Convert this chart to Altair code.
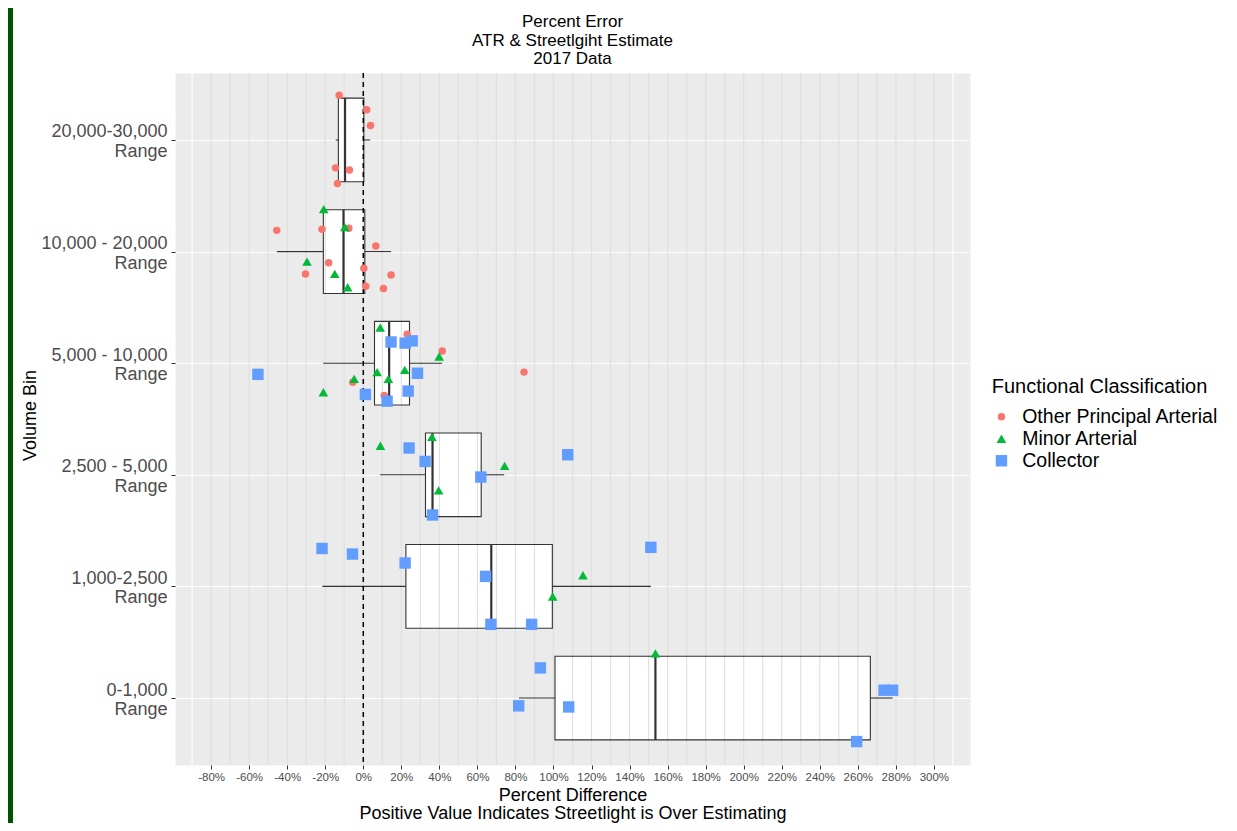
import json
import altair as alt
import pandas as pd

FONT = "Liberation Sans"

# ---------------- data ----------------
bin_labels = [
    "20,000-30,000\nRange",
    "10,000 - 20,000\nRange",
    "5,000 - 10,000\nRange",
    "2,500 - 5,000\nRange",
    "1,000-2,500\nRange",
    "0-1,000\nRange",
]
class_names = ["Other Principal Arterial", "Minor Arterial", "Collector"]
class_colors = ["#F8766D", "#00BA38", "#619CFF"]
class_shapes = ["circle", "triangle-up", "square"]
class_sizes = [56, 130, 62]

# box statistics per volume bin (percent)
whisker_low = [-14.5, -45.4, -21.1, 8.9, -21.5, 81.8]
box_q1 = [-13.1, -21.0, 5.9, 32.7, 22.4, 100.8]
box_median = [-9.6, -10.4, 13.6, 36.4, 67.3, 153.6]
box_q3 = [0.3, 0.8, 24.3, 62.0, 99.4, 266.6]
whisker_high = [3.6, 14.6, 41.5, 74.1, 151.2, 278.3]

# Other Principal Arterial points
opa_bin = [1] * 6 + [2] * 10 + [3] * 5
opa_value = [-12.7, 1.8, 3.8, -14.6, -7.3, -13.6,
             -45.5, -21.7, -7.6, 6.6, -18.2, 0.3, -30.4, 14.6, 1.3, 10.6,
             23.1, 41.5, 84.5, -5.5, 11.0]
opa_jitter = [-0.40, -0.27, -0.13, 0.25, 0.27, 0.39,
              -0.19, -0.20, -0.21, -0.05, 0.10, 0.15, 0.20, 0.21, 0.31, 0.33,
              -0.26, -0.11, 0.08, 0.17, 0.29]

# Minor Arterial points
ma_bin = [2] * 5 + [3] * 7 + [4] * 4 + [5] * 2 + [6]
ma_value = [-20.8, -9.7, -29.6, -15.0, -8.2,
            8.9, 39.9, 7.3, 21.8, 13.2, -4.8, -21.0,
            9.0, 36.1, 39.6, 74.3,
            115.5, 99.6,
            153.6]
ma_jitter = [-0.38, -0.22, 0.09, 0.20, 0.32,
             -0.32, -0.06, 0.08, 0.06, 0.14, 0.14, 0.26,
             -0.26, -0.34, 0.14, -0.08,
             -0.10, 0.09,
             -0.40]

# Collector points
col_bin = [3] * 8 + [4] * 5 + [5] * 7 + [6] * 6
col_value = [14.6, 22.0, 25.7, -55.4, 28.5, 1.1, 23.6, 12.5,
             24.1, 32.5, 61.8, 36.4, 107.5,
             -21.7, -5.7, 22.0, 64.3, 67.1, 88.5, 151.2,
             93.1, 81.7, 108.0, 259.4, 273.8, 278.3]
col_jitter = [-0.19, -0.18, -0.20, 0.10, 0.09, 0.28, 0.25, 0.34,
              -0.24, -0.12, 0.02, 0.36, -0.18,
              -0.34, -0.29, -0.21, -0.09, 0.34, 0.34, -0.35,
              -0.27, 0.07, 0.08, 0.39, -0.07, -0.07]

x_ticks = list(range(-80, 301, 20))
grey_lines = list(range(-80, 301, 10))
white_lines = list(range(-90, 311, 10))
zero_line = [0]

# ---------------- tables ----------------
rows = []
for cname, bins, vals, jits in [
    (class_names[0], opa_bin, opa_value, opa_jitter),
    (class_names[1], ma_bin, ma_value, ma_jitter),
    (class_names[2], col_bin, col_value, col_jitter),
]:
    for b, v, j in zip(bins, vals, jits):
        rows.append({"cls": cname, "value": v, "pos": b + j})
points_df = pd.DataFrame(rows)

box_df = pd.DataFrame({
    "pos": list(range(1, len(bin_labels) + 1)),
    "low": whisker_low, "q1": box_q1, "med": box_median,
    "q3": box_q3, "high": whisker_high,
})

label_lines = [lab.split("\n") for lab in bin_labels]

PLOT_W, PLOT_H = 795, 692

# ---------------- scales / axes ----------------
xs = alt.Scale(domain=[-99, 319], nice=False, zero=False)
ys = alt.Scale(domain=[0.4, 6.6], nice=False, zero=False, reverse=True)

x_axis = alt.Axis(
    values=x_ticks, labelExpr="datum.value + '%'", grid=False, domain=False,
    tickColor="#333333", tickSize=4, tickWidth=1,
    labelColor="#4D4D4D", labelFontSize=11.5, labelFont=FONT, labelPadding=2,
    labelFlush=False, labelOverlap=False,
    title=["Percent Difference", "Positive Value Indicates Streetlight is Over Estimating"],
    titleFont=FONT, titleFontSize=18, titleFontWeight="normal", titleColor="black",
    titleLineHeight=18, titleBaseline="top", titleY=21,
)
y_axis = alt.Axis(
    values=list(range(1, len(bin_labels) + 1)),
    labelExpr=json.dumps(label_lines) + "[datum.value - 1]",
    grid=True, gridColor="white", gridWidth=1.1, domain=False,
    tickColor="#333333", tickSize=4, tickWidth=1,
    labelColor="#4D4D4D", labelFontSize=18, labelFont=FONT, labelLineHeight=19.5,
    labelAlign="right", labelBaseline="middle", labelPadding=4, labelOverlap=False,
    labelOffset=-8,
    title="Volume Bin", titleFont=FONT, titleFontSize=18, titleFontWeight="normal",
    titleColor="black", titleX=-145, titleY=PLOT_H / 2 - 4, titleAngle=-90,
    titleAlign="center", titleBaseline="middle",
)

X = lambda f: alt.X(f, type="quantitative", scale=xs, axis=x_axis)
Y = lambda f: alt.Y(f, type="quantitative", scale=ys, axis=y_axis)

# ---------------- layers ----------------
white_grid = alt.Chart(pd.DataFrame({"v": white_lines})).mark_rule(
    color="white", strokeWidth=1.1
).encode(x=X("v:Q"))

whisk_lo = alt.Chart(box_df).mark_rule(color="#333333", strokeWidth=1.1).encode(
    x=X("low:Q"), x2="q1:Q", y=Y("pos:Q"))
whisk_hi = alt.Chart(box_df).mark_rule(color="#333333", strokeWidth=1.1).encode(
    x=X("q3:Q"), x2="high:Q", y=Y("pos:Q"))

boxes = alt.Chart(box_df).transform_calculate(
    top="datum.pos - 0.375", bot="datum.pos + 0.375"
).mark_rect(fill="white", stroke="#333333", strokeWidth=1.1).encode(
    x=X("q1:Q"), x2="q3:Q", y=Y("top:Q"), y2="bot:Q")

grey_grid = alt.Chart(pd.DataFrame({"v": grey_lines})).mark_rule(
    color="#000000", opacity=0.12, strokeWidth=1.2
).encode(x=X("v:Q"))

medians = alt.Chart(box_df).transform_calculate(
    top="datum.pos - 0.375", bot="datum.pos + 0.375"
).mark_rule(color="#333333", strokeWidth=2.2).encode(
    x=X("med:Q"), y=Y("top:Q"), y2="bot:Q")

zero = alt.Chart(pd.DataFrame({"v": zero_line})).mark_rule(
    color="black", strokeDash=[5, 4], strokeWidth=1.5
).encode(x=X("v:Q"))

leg = alt.Legend(
    orient="none", legendX=816.7, legendY=304, padding=0,
    titleFont=FONT, titleFontSize=20, titleFontWeight="normal", titleColor="black",
    titlePadding=10, titleLimit=0, labelFont=FONT, labelFontSize=19.5,
    labelColor="black", labelLimit=0,
    rowPadding=1, symbolOffset=0, labelOffset=11,
)
points = alt.Chart(points_df).mark_point(filled=True, opacity=1).encode(
    x=X("value:Q"), y=Y("pos:Q"),
    color=alt.Color("cls:N", title="Functional Classification",
                    scale=alt.Scale(domain=class_names, range=class_colors), legend=leg),
    shape=alt.Shape("cls:N", title="Functional Classification",
                    scale=alt.Scale(domain=class_names, range=class_shapes), legend=leg),
    size=alt.Size("cls:N", title="Functional Classification",
                  scale=alt.Scale(domain=class_names, range=class_sizes), legend=leg),
)

frame = alt.Chart(pd.DataFrame({"k": [0]})).mark_rect(color="#005400").encode(
    x=alt.value(-167), x2=alt.value(-162), y=alt.value(-65), y2=alt.value(760))

chart = alt.layer(
    white_grid, whisk_lo, whisk_hi, boxes, grey_grid, medians, zero, points, frame
).properties(
    width=PLOT_W, height=PLOT_H,
    autosize=alt.AutoSizeParams(type="none"),
    padding={"left": 167, "top": 65, "right": 259, "bottom": 815 - 65 - PLOT_H},
    title=alt.Title(
        ["Percent Error", "ATR & Streetlgiht Estimate", "2017 Data"],
        font=FONT, fontSize=17, fontWeight="normal", color="black",
        anchor="middle", frame="group", lineHeight=18.5, offset=-60,
    ),
).configure(
    background="white",
    view=alt.ViewConfig(fill="#EBEBEB", stroke="transparent"),
)

chart.save("out.html", embed_options={"renderer": "svg", "actions": False})
